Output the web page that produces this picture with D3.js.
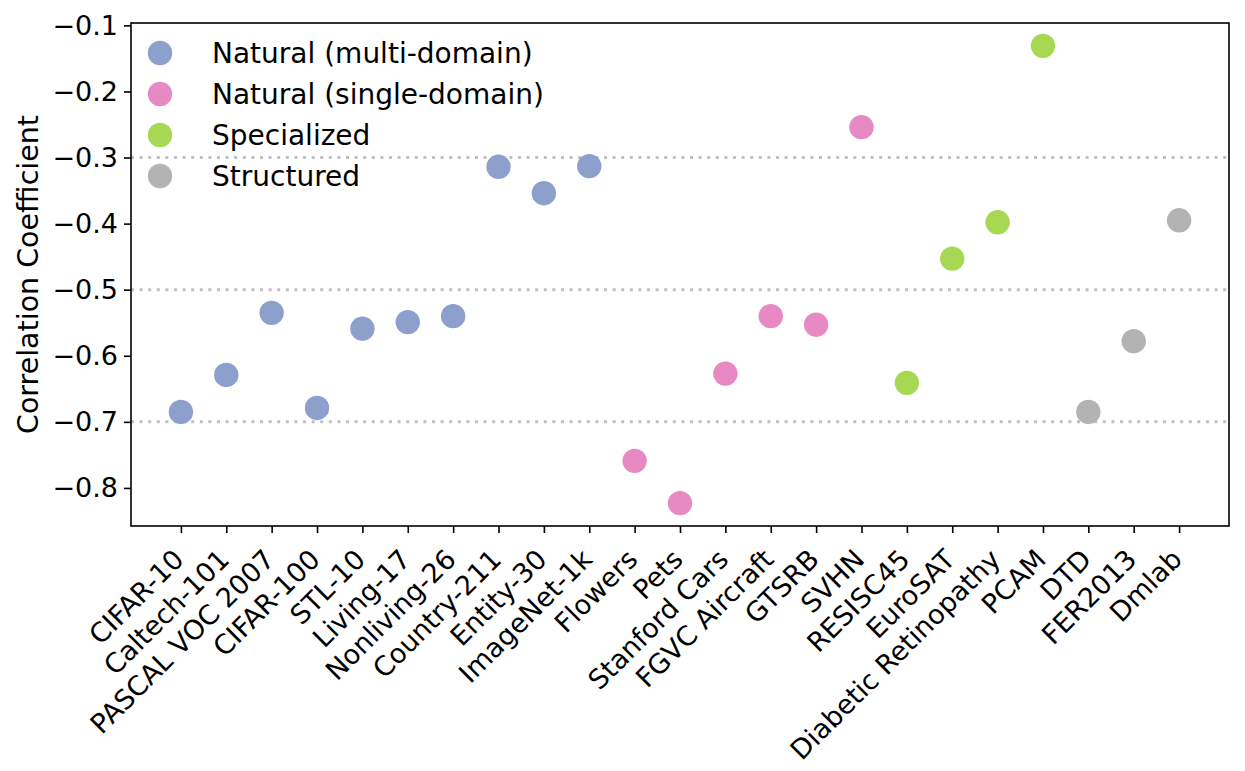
<!DOCTYPE html>
<html lang="en">
<head>
<meta charset="utf-8">
<title>Correlation Coefficient</title>
<script src="https://cdn.jsdelivr.net/npm/d3@7"></script>
<style>
  body { margin: 0; background: #fff; }
  text { font-family: "DejaVu Sans", sans-serif; }
</style>
</head>
<body>
<script>
// datasets, in plotting order
var datasets = ["CIFAR-10", "Caltech-101", "PASCAL VOC 2007", "CIFAR-100", "STL-10",
  "Living-17", "Nonliving-26", "Country-211", "Entity-30", "ImageNet-1k",
  "Flowers", "Pets", "Stanford Cars", "FGVC Aircraft", "GTSRB", "SVHN",
  "RESISC45", "EuroSAT", "Diabetic Retinopathy", "PCAM",
  "DTD", "FER2013", "Dmlab"];
var correlations = [-0.685, -0.629, -0.535, -0.679, -0.559,
  -0.549, -0.540, -0.314, -0.354, -0.313,
  -0.759, -0.823, -0.627, -0.540, -0.553, -0.254,
  -0.641, -0.453, -0.398, -0.131,
  -0.685, -0.578, -0.395];
var groupOf = [0, 0, 0, 0, 0, 0, 0, 0, 0, 0,
  1, 1, 1, 1, 1, 1,
  2, 2, 2, 2,
  3, 3, 3];
var groups = ["Natural (multi-domain)", "Natural (single-domain)", "Specialized", "Structured"];
var groupColors = ["#8da0cb", "#e78ac3", "#a6d854", "#b3b3b3"];
var yTicks = [-0.8, -0.7, -0.6, -0.5, -0.4, -0.3, -0.2, -0.1];
var refLines = [-0.3, -0.5, -0.7];

var w = 1245, h = 771;
var plotL = 131, plotR = 1229, plotT = 23, plotB = 526;

var svg = d3.select("body").append("svg")
  .attr("width", w)
  .attr("height", h);

var n = datasets.length;
var xScale = d3.scaleLinear()
  .domain([-0.05 * (n - 1), (n - 1) * 1.05])
  .range([plotL, plotR]);

var yMin = d3.min(correlations), yMax = d3.max(correlations);
var pad = (yMax - yMin) * 0.05;
var yScale = d3.scaleLinear()
  .domain([yMin - pad, yMax + pad])
  .range([plotB, plotT]);

// dotted reference lines
svg.selectAll("line.ref")
  .data(refLines)
  .enter()
  .append("line")
  .attr("class", "ref")
  .attr("x1", plotL)
  .attr("x2", plotR)
  .attr("y1", function(d) { return yScale(d); })
  .attr("y2", function(d) { return yScale(d); })
  .attr("stroke", "#c0c0c0")
  .attr("stroke-width", 3)
  .attr("stroke-dasharray", "3,5.6");

// points
svg.selectAll("circle.pt")
  .data(correlations)
  .enter()
  .append("circle")
  .attr("class", "pt")
  .attr("cx", function(d, i) { return xScale(i); })
  .attr("cy", function(d) { return yScale(d); })
  .attr("r", 12.2)
  .attr("fill", function(d, i) { return groupColors[groupOf[i]]; });

// y axis
var yAxis = d3.axisLeft(yScale)
  .tickValues(yTicks)
  .tickSize(7)
  .tickPadding(6)
  .tickFormat(function(d) { return d3.format(".1f")(d).replace("-", "\u2212"); });
var gY = svg.append("g")
  .attr("transform", "translate(" + plotL + ",0)")
  .call(yAxis);
gY.select(".domain").remove();
gY.selectAll("line").attr("stroke", "#000").attr("stroke-width", 1.6);
gY.selectAll("text").attr("font-size", "27px").attr("fill", "#000")
  .attr("font-family", "DejaVu Sans");

// x axis
var xAxis = d3.axisBottom(xScale)
  .tickValues(d3.range(n))
  .tickSize(7)
  .tickFormat(function(i) { return datasets[i]; });
var gX = svg.append("g")
  .attr("transform", "translate(0," + plotB + ")")
  .call(xAxis);
gX.select(".domain").remove();
gX.selectAll("line").attr("stroke", "#000").attr("stroke-width", 1.6);
gX.selectAll("text")
  .attr("font-size", "27px")
  .attr("fill", "#000")
  .attr("font-family", "DejaVu Sans")
  .attr("text-anchor", "end")
  .attr("dy", null)
  .attr("y", null)
  .attr("transform", "translate(4,35) rotate(-45)");

// frame
svg.append("rect")
  .attr("x", plotL)
  .attr("y", plotT)
  .attr("width", plotR - plotL)
  .attr("height", plotB - plotT)
  .attr("fill", "none")
  .attr("stroke", "#000")
  .attr("stroke-width", 1.6);

// y label
svg.append("text")
  .attr("transform", "translate(38," + ((plotT + plotB) / 2) + ") rotate(-90)")
  .attr("text-anchor", "middle")
  .attr("font-size", "28.5px")
  .text("Correlation Coefficient");

// legend
var legend = svg.append("g")
  .attr("transform", "translate(160,53)");
var item = legend.selectAll("g")
  .data(groups)
  .enter()
  .append("g")
  .attr("transform", function(d, i) { return "translate(0," + (i * 41) + ")"; });
item.append("circle")
  .attr("r", 12.2)
  .attr("fill", function(d, i) { return groupColors[i]; });
item.append("text")
  .attr("x", 52)
  .attr("dy", "0.35em")
  .attr("font-size", "28px")
  .text(function(d) { return d; });
</script>
</body>
</html>
